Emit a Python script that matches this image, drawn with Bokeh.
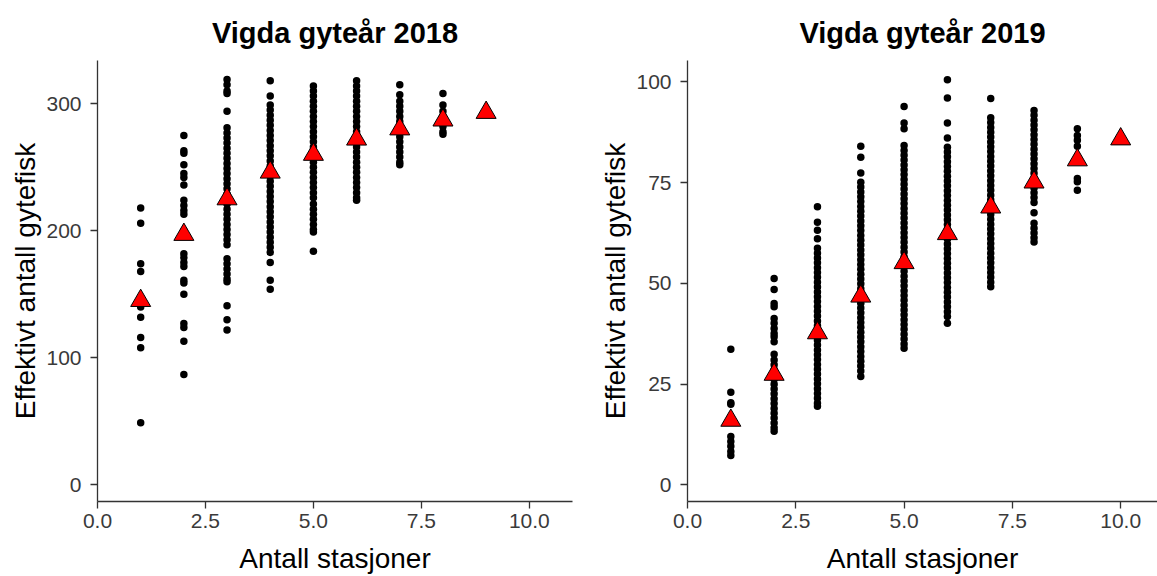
from bokeh.plotting import figure
from bokeh.layouts import row
from bokeh.models import ColumnDataSource, Range1d, FixedTicker, PrintfTickFormatter
from bokeh.embed import file_html
from bokeh.resources import INLINE

# ---- 2018: simulated effective number of spawners per number of stations ----
y2018_s1 = [218, 206, 174, 168, 147, 140, 132, 116, 108, 49]
y2018_s2 = [275, 263, 261, 252, 245, 242, 236, 224, 220, 216, 213, 200, 182, 179,
            175, 172, 161, 159, 150, 127, 124, 113, 87]
y2018_s3 = [319, 315, 310, 308, 294, 281, 277, 273, 269, 265, 261, 257, 253, 249,
            245, 241, 237, 233, 229, 225, 221, 217, 213, 209, 205, 201, 197, 193,
            189, 178, 174, 170, 166, 162, 160, 141, 130, 122]
y2018_s4 = [318, 306, 299, 295, 291, 287, 283, 279, 275, 271, 267, 263, 259, 255,
            251, 247, 243, 239, 235, 231, 227, 223, 219, 215, 211, 207, 203, 199,
            195, 191, 187, 183, 175, 161, 154]
y2018_s5 = [314, 310, 306, 302, 298, 294, 290, 286, 282, 278, 274, 270, 266, 262,
            258, 254, 250, 246, 242, 238, 234, 230, 226, 221, 217, 213, 209, 205,
            201, 199, 184]
y2018_s6 = [318, 314, 310, 306, 302, 298, 294, 290, 286, 282, 278, 274, 270, 266,
            262, 258, 254, 250, 246, 242, 238, 234, 230, 226, 224]
y2018_s7 = [315, 307, 302, 298, 294, 290, 286, 282, 278, 274, 270, 266, 262, 258,
            254, 252]
y2018_s8 = [308, 299, 294, 290, 286, 282, 278, 276]
y2018_s9 = [293]
y2018_groups = [y2018_s1, y2018_s2, y2018_s3, y2018_s4, y2018_s5, y2018_s6,
                y2018_s7, y2018_s8, y2018_s9]
mean2018_stations = [1, 2, 3, 4, 5, 6, 7, 8, 9]
mean2018_values = [145, 197, 225, 246, 260, 272, 280, 287, 293]

# ---- 2019 ----
y2019_s1 = [33.7, 23.0, 20.4, 20.0, 16.6, 12.0, 10.8, 9.6, 8.3, 7.3]
y2019_s2 = [51.2, 48.5, 45.0, 44.2, 41.3, 40.1, 38.8, 37.6, 36.8, 35.5, 32.4, 31.0,
            29.8, 28.6, 27.4, 26.2, 25.0, 23.8, 22.6, 21.4, 20.2, 19.0, 17.8, 16.6,
            15.4, 14.2, 13.3]
y2019_s3 = [69.0, 65.2, 63.2, 61.1, 58.7, 57.5, 56.3, 55.1, 53.9, 52.7, 51.5, 50.3,
            49.1, 47.9, 46.7, 45.5, 44.3, 43.1, 41.9, 40.7, 39.5, 38.3, 37.1, 35.9,
            34.7, 33.5, 32.3, 31.1, 29.9, 28.7, 27.5, 26.3, 25.1, 23.9, 22.7, 21.5,
            20.3, 19.5]
y2019_s4 = [84.0, 81.3, 77.4, 75.1, 73.9, 72.7, 71.5, 70.3, 69.1, 67.9, 66.7, 65.5,
            64.3, 63.1, 61.9, 60.7, 59.5, 58.3, 57.1, 55.9, 54.7, 53.5, 52.3, 51.1,
            49.9, 48.7, 47.5, 46.3, 45.1, 43.9, 42.7, 41.5, 40.3, 39.1, 37.9, 36.7,
            35.5, 34.3, 33.1, 31.9, 30.7, 29.5, 28.3, 26.9]
y2019_s5 = [93.9, 89.8, 88.4, 84.2, 83.0, 81.8, 80.6, 79.4, 78.2, 77.0, 75.8, 74.6,
            73.4, 72.2, 71.0, 69.8, 68.6, 67.4, 66.2, 65.0, 63.8, 62.6, 61.4, 60.2,
            59.0, 57.8, 56.6, 55.4, 54.2, 53.0, 51.8, 50.6, 49.4, 48.2, 47.0, 45.8,
            44.6, 43.4, 42.2, 41.0, 39.8, 38.6, 37.4, 36.2, 35.0, 33.9]
y2019_s6 = [100.5, 96.0, 89.8, 86.1, 83.8, 82.6, 81.4, 80.2, 79.0, 77.8, 76.6, 75.4,
            74.2, 73.0, 71.8, 70.6, 69.4, 68.2, 67.0, 65.8, 64.6, 63.4, 62.2, 61.0,
            59.8, 58.6, 57.4, 56.2, 55.0, 53.8, 52.6, 51.4, 50.2, 49.0, 47.8, 46.6,
            45.4, 44.2, 43.0, 41.8, 40.1]
y2019_s7 = [95.9, 91.1, 89.9, 88.7, 87.5, 86.3, 85.1, 83.9, 82.7, 81.5, 80.3, 79.1,
            77.9, 76.7, 75.5, 74.3, 73.1, 71.9, 70.7, 69.5, 68.3, 67.1, 65.9, 64.7,
            63.5, 62.3, 61.1, 59.9, 58.7, 57.5, 56.3, 55.1, 53.9, 52.7, 51.5, 50.3,
            49.2]
y2019_s8 = [92.9, 91.7, 90.5, 89.3, 88.1, 86.9, 85.7, 84.5, 83.3, 82.1, 80.9, 79.7,
            78.5, 77.3, 76.1, 74.9, 73.7, 72.5, 71.3, 70.1, 67.5, 64.9, 63.7, 62.5,
            61.3, 60.3]
y2019_s9 = [88.4, 86.7, 85.5, 84.0, 81.3, 76.0, 75.2, 73.1]
y2019_s10 = [86.0]
y2019_groups = [y2019_s1, y2019_s2, y2019_s3, y2019_s4, y2019_s5, y2019_s6,
                y2019_s7, y2019_s8, y2019_s9, y2019_s10]
mean2019_stations = [1, 2, 3, 4, 5, 6, 7, 8, 9, 10]
mean2019_values = [16.0, 27.4, 37.7, 46.8, 55.1, 62.3, 68.9, 75.1, 80.6, 85.8]

x_ticks = [0, 2.5, 5, 7.5, 10]
y2018_ticks = [0, 100, 200, 300]
y2019_ticks = [0, 25, 50, 75, 100]
x_title = "Antall stasjoner"
y_title = "Effektivt antall gytefisk"

FONT = "Liberation Sans"


def flatten(groups):
    xs, ys = [], []
    for i, g in enumerate(groups, start=1):
        xs.extend([i] * len(g))
        ys.extend(g)
    return xs, ys


def panel(title, groups, mx, my, yticks, xr, yr, width, border_left, border_right,
          title_offset):
    p = figure(width=width, height=576, x_range=Range1d(*xr), y_range=Range1d(*yr),
               output_backend="svg", toolbar_location=None,
               min_border_left=border_left, min_border_right=border_right,
               min_border_top=60, min_border_bottom=74, title=title)
    p.outline_line_color = None
    p.xgrid.visible = False
    p.ygrid.visible = False
    p.background_fill_color = "white"
    p.border_fill_color = "white"

    p.title.align = "center"
    p.title.offset = title_offset
    p.title.text_font = FONT
    p.title.text_font_size = "29px"
    p.title.text_font_style = "bold"
    p.title.text_color = "black"
    p.title.standoff = 24

    for ax in (p.xaxis[0], p.yaxis[0]):
        ax.axis_line_color = "#333333"
        ax.axis_line_width = 1.3
        ax.major_tick_line_color = "#333333"
        ax.major_tick_line_width = 1.3
        ax.major_tick_out = 7
        ax.major_tick_in = 0
        ax.minor_tick_line_color = None
        ax.major_label_text_font = FONT
        ax.major_label_text_font_size = "21px"
        ax.major_label_text_color = "#3A3A3A"
        ax.axis_label_text_font = FONT
        ax.axis_label_text_font_size = "28px"
        ax.axis_label_text_font_style = "normal"
        ax.axis_label_text_color = "black"

    p.xaxis.ticker = FixedTicker(ticks=x_ticks)
    p.xaxis.formatter = PrintfTickFormatter(format="%.1f")
    p.xaxis.axis_label = x_title
    p.xaxis.major_label_standoff = 5
    p.xaxis.axis_label_standoff = 12
    p.yaxis.ticker = FixedTicker(ticks=yticks)
    p.yaxis.axis_label = y_title
    p.yaxis.major_label_standoff = 9
    p.yaxis.axis_label_standoff = 2

    xs, ys = flatten(groups)
    p.scatter(x="x", y="y", source=ColumnDataSource(dict(x=xs, y=ys)),
              marker="circle", size=7.5, fill_color="black", line_color=None)
    p.scatter(x="x", y="y", source=ColumnDataSource(dict(x=mx, y=my)),
              marker="triangle", size=20, fill_color="#FF0000",
              line_color="black", line_width=1)
    return p


p1 = panel("Vigda gyteår 2018", y2018_groups, mean2018_stations, mean2018_values,
           y2018_ticks, (0, 11), (-13, 334), 578, 97, 6, 0)
p2 = panel("Vigda gyteår 2019", y2019_groups, mean2019_stations, mean2019_values,
           y2019_ticks, (0, 10.85), (-4.1, 105.3), 579, 109, 0, 3)

layout = row(p1, p2)
open("out.html", "w").write(file_html(layout, INLINE))
